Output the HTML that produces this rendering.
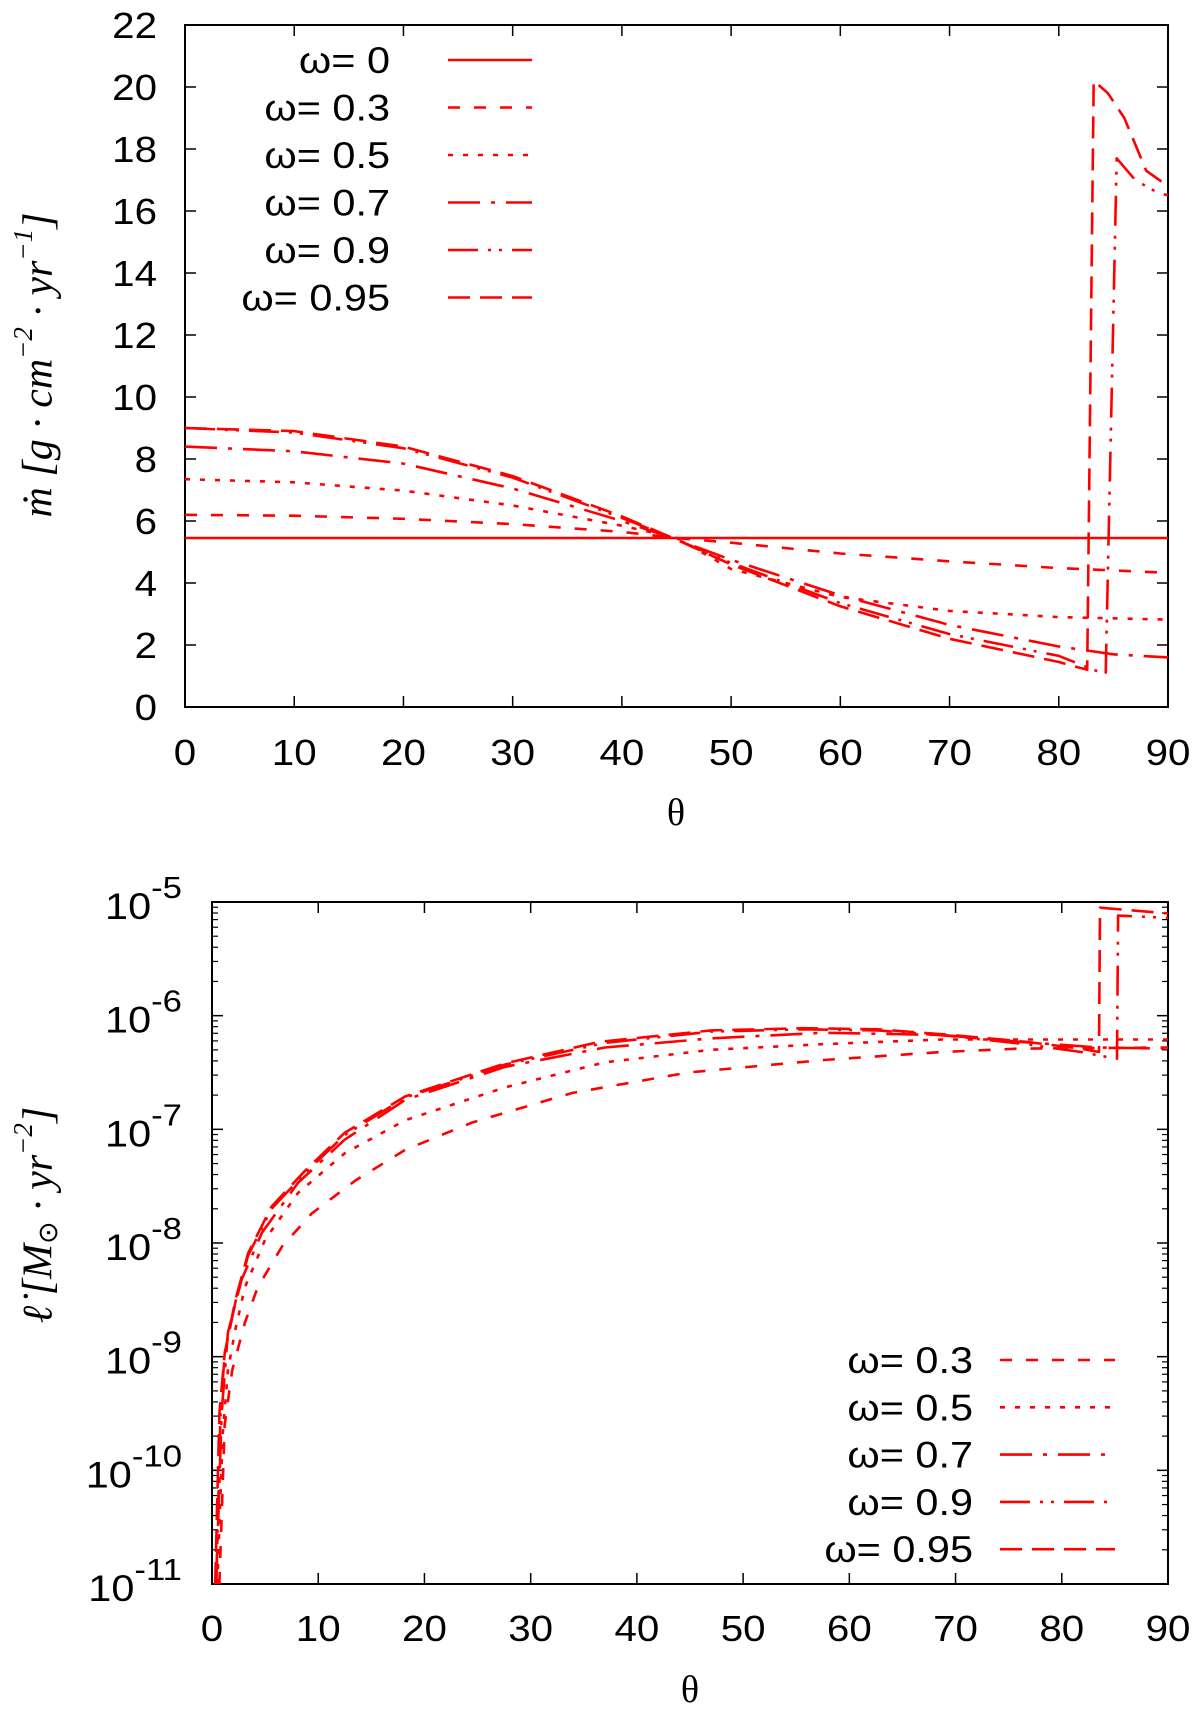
<!DOCTYPE html>
<html><head><meta charset="utf-8"><style>
html,body{margin:0;padding:0;background:#fff;}
svg{display:block;font-family:"Liberation Sans",sans-serif;}
</style></head><body>
<svg id="fig" width="1200" height="1716" viewBox="0 0 1200 1716" xmlns="http://www.w3.org/2000/svg">
<text x="42" y="365" transform="rotate(-90 42 365)" text-anchor="middle" dominant-baseline="middle" font-family="Liberation Serif,serif" font-style="italic" font-size="42">ṁ  [g · cm<tspan dy="-16" font-size="27">−2</tspan><tspan dy="16"> · yr</tspan><tspan dy="-16" font-size="27">−1</tspan><tspan dy="16">]</tspan></text>
<text x="42" y="1215" transform="rotate(-90 42 1215)" text-anchor="middle" dominant-baseline="middle" font-family="Liberation Serif,serif" font-style="italic" font-size="42">ℓ̇  [M<tspan dy="9" font-size="27" font-style="normal">⊙</tspan><tspan dy="-9"> · yr</tspan><tspan dy="-16" font-size="27">−2</tspan><tspan dy="16">]</tspan></text>
<text x="676" y="825" text-anchor="middle" font-size="38" font-family="Liberation Serif,serif">θ</text>
<text x="690" y="1702" text-anchor="middle" font-size="38" font-family="Liberation Serif,serif">θ</text>
</svg>
<script>
// ---- data ----
const xTicks = [0,10,20,30,40,50,60,70,80,90];
const topYTicks = [0,2,4,6,8,10,12,14,16,18,20,22];
const botYExps = [-11,-10,-9,-8,-7,-6,-5];
const legendTop = ["ω= 0","ω= 0.3","ω= 0.5","ω= 0.7","ω= 0.9","ω= 0.95"];
const legendBot = ["ω= 0.3","ω= 0.5","ω= 0.7","ω= 0.9","ω= 0.95"];

const t0 = [0,90];
const m0 = [5.45,5.45];
const t03 = [0,10,20,30,40,45,50,60,70,80,90];
const m03 = [6.2,6.17,6.07,5.9,5.65,5.45,5.3,4.95,4.7,4.48,4.33];
const t05 = [0,10,20,30,40,45,50,60,70,80,90];
const m05 = [7.35,7.25,6.98,6.5,5.85,5.45,4.45,3.55,3.1,2.9,2.82];
const t07 = [0,10,20,30,40,45,50,60,70,80,85,90];
const m07 = [8.4,8.25,7.85,7.05,6.0,5.4,4.75,3.6,2.65,1.95,1.7,1.6];
const t09 = [0,10,20,30,40,45,50,60,70,80,84.3,85.3,87,89,90];
const m09 = [9.0,8.85,8.35,7.4,6.1,5.4,4.65,3.35,2.35,1.65,1.05,17.7,17.0,16.6,16.5];
const t095 = [0,10,20,30,40,45,50,60,70,80,82.6,83.2,84.5,86,88,90];
const m095 = [9.0,8.9,8.4,7.45,6.15,5.4,4.6,3.25,2.2,1.45,1.2,20.2,19.8,19.0,17.3,16.8];

const b03t = [0.7,1.2,1.9,3.1,4.3,6.6,9.4,13.5,18.2,24.5,33.9,44.8,57.6,68.7,76,90];
const b03v = [-11,-9.6,-9.12,-8.70,-8.39,-8.03,-7.74,-7.45,-7.18,-6.94,-6.68,-6.50,-6.39,-6.32,-6.29,-6.28];
const b05t = [0.5,1.0,1.5,2.2,3.1,5.0,8.1,12.5,18.2,27.6,37,47,57.6,68.7,90];
const b05v = [-11,-9.7,-9.12,-8.76,-8.39,-7.97,-7.56,-7.21,-6.92,-6.63,-6.41,-6.30,-6.25,-6.21,-6.21];
const b07t = [0.4,0.9,1.5,2.8,4.7,8.1,12.5,18.2,27.6,37,47,57.6,68.7,76,83.5,90];
const b07v = [-11,-9.5,-8.79,-8.32,-7.91,-7.47,-7.09,-6.74,-6.45,-6.28,-6.20,-6.15,-6.17,-6.23,-6.28,-6.29];
const b09t = [0.4,0.8,1.2,2.2,3.4,5.6,8.8,12.5,18.2,27.6,37,47,55.7,62.7,69.6,76.6,81.8,85.2,85.3,90];
const b09v = [-11,-9.5,-8.97,-8.52,-8.11,-7.70,-7.38,-7.05,-6.72,-6.43,-6.24,-6.14,-6.12,-6.13,-6.18,-6.25,-6.32,-6.38,-5.12,-5.14];
const b095t = [0.3,0.7,1.2,2.2,3.4,5.6,8.8,12.5,18.2,27.6,36.5,47,55.7,62.7,69.6,76.6,81.8,83.5,83.6,90];
const b095v = [-11,-9.5,-8.97,-8.50,-8.09,-7.68,-7.36,-7.03,-6.71,-6.42,-6.23,-6.13,-6.11,-6.12,-6.17,-6.23,-6.29,-6.32,-5.05,-5.10];

// ---- styles ----
const DASH = {"0":"", "03":"12 14", "05":"5 10", "07":"32 11 4 11", "09":"30 10 3 8 3 10", "095":"22 10"};
const svg = document.getElementById('fig');
const NS = "http://www.w3.org/2000/svg";
function mk(tag, attrs){const e=document.createElementNS(NS,tag);for(const k in attrs)e.setAttribute(k,attrs[k]);svg.appendChild(e);return e;}

// ---- axes ----
const T = {l:185,r:1168,t:25,b:707};
const B = {l:212,r:1168,t:902,b:1584};
const txT = v => T.l + (v-0)/90*(T.r-T.l);
const tyT = v => T.b - v/22*(T.b-T.t);
const txB = v => B.l + v/90*(B.r-B.l);
const tyB = v => B.b - (v+11)/6*(B.b-B.t);

function frame(F,name){
  const r = mk('rect',{x:F.l,y:F.t,width:F.r-F.l,height:F.b-F.t,fill:'none',stroke:'#000','stroke-width':2});
  
  
}
function tick(x1,y1,x2,y2,w){
  const l=mk('line',{x1,y1,x2,y2,stroke:'#000','stroke-width':w||1.5});
  
  
}
function label(x,y,s,anchor,size,name){
  const t=mk('text',{x:0,y:0,'text-anchor':anchor,'font-size':size,transform:`translate(${x},${y}) scale(1.12,1)`});
  t.textContent=s;
  
  
  return t;
}

// top axes
xTicks.forEach(v=>{const x=txT(v);tick(x,T.b,x,T.b-11);tick(x,T.t,x,T.t+11);
  label(x,765,String(v),'middle',36,'top-x-tick-label');});
topYTicks.forEach(v=>{const y=tyT(v);tick(T.l,y,T.l+11,y);tick(T.r,y,T.r-11,y);
  label(157,y+13,String(v),'end',36,'top-y-tick-label');});
// bottom axes
xTicks.forEach(v=>{const x=txB(v);tick(x,B.b,x,B.b-11);tick(x,B.t,x,B.t+11);
  label(x,1641,String(v),'middle',36,'bottom-x-tick-label');});
botYExps.forEach(e=>{const y=tyB(e);tick(B.l,y,B.l+11,y);tick(B.r,y,B.r-11,y);
  if(e<-5){for(let k=2;k<10;k++){const yy=tyB(e+Math.log10(k));tick(B.l,yy,B.l+6,yy,1.2);tick(B.r,yy,B.r-6,yy,1.2);}}
  const t=label(182,y+17,'','end',37,'bottom-y-tick-label');
  const a=document.createElementNS(NS,'tspan');a.textContent='10';t.appendChild(a);
  const b=document.createElementNS(NS,'tspan');b.setAttribute('dy','-21');b.setAttribute('font-size','31');b.textContent=String(e);t.appendChild(b);
});
frame(T,'top-plot-frame');
frame(B,'bottom-plot-frame');

// ---- series ----
function series(ts,vs,fx,fy,key,name){
  const pts=ts.map((t,i)=>fx(t).toFixed(1)+','+fy(vs[i]).toFixed(1)).join(' ');
  const p=mk('polyline',{points:pts,fill:'none',stroke:'#ff0000','stroke-width':2.6,'stroke-dasharray':DASH[key],'stroke-linejoin':'round'});
  
  
}
series(t0,m0,txT,tyT,"0",'top-line-w0');
series(t03,m03,txT,tyT,"03",'top-line-w03');
series(t05,m05,txT,tyT,"05",'top-line-w05');
series(t07,m07,txT,tyT,"07",'top-line-w07');
series(t09,m09,txT,tyT,"09",'top-line-w09');
series(t095,m095,txT,tyT,"095",'top-line-w095');
series(b03t,b03v,txB,tyB,"03",'bottom-line-w03');
series(b05t,b05v,txB,tyB,"05",'bottom-line-w05');
series(b07t,b07v,txB,tyB,"07",'bottom-line-w07');
series(b09t,b09v,txB,tyB,"09",'bottom-line-w09');
series(b095t,b095v,txB,tyB,"095",'bottom-line-w095');

// ---- legends ----
const kTop=["0","03","05","07","09","095"];
legendTop.forEach((s,i)=>{const y=60+i*47.5;
  label(390,y+13,s,'end',37,'top-legend-label');
  const l=mk('line',{x1:448,y1:y,x2:532,y2:y,stroke:'#ff0000','stroke-width':2.6,'stroke-dasharray':DASH[kTop[i]]});
  
  
});
const kBot=["03","05","07","09","095"];
legendBot.forEach((s,i)=>{const y=1360+i*47.3;
  label(973,y+13,s,'end',37,'bottom-legend-label');
  const l=mk('line',{x1:1000,y1:y,x2:1115,y2:y,stroke:'#ff0000','stroke-width':2.6,'stroke-dasharray':DASH[kBot[i]]});
  
  
});
</script>
</body></html>
